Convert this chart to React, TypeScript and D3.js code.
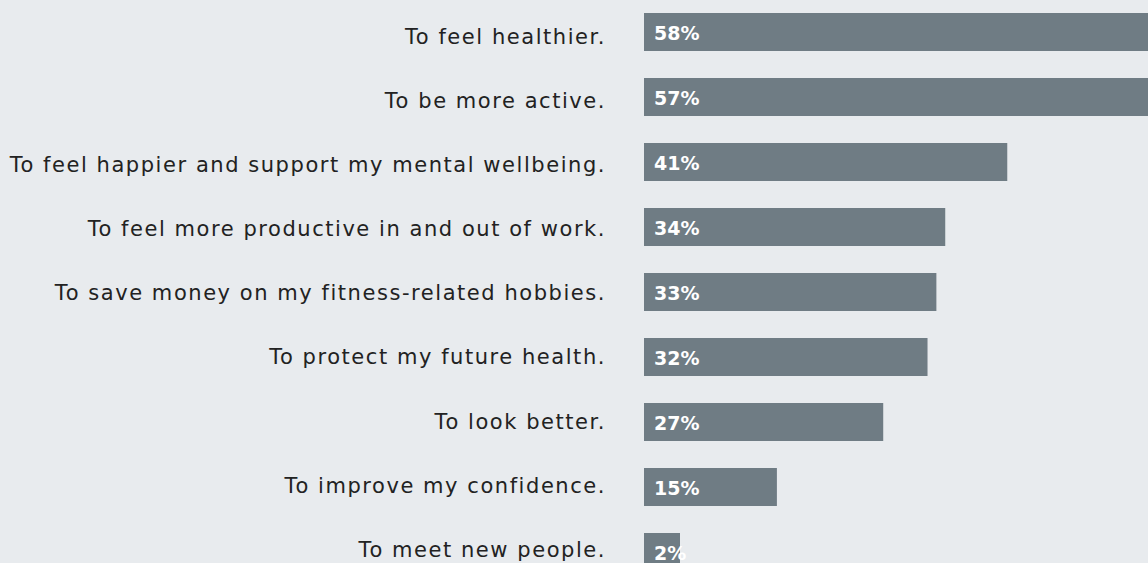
import React from "react";
import * as d3 from "d3";

const categories = [
  "To feel healthier.",
  "To be more active.",
  "To feel happier and support my mental wellbeing.",
  "To feel more productive in and out of work.",
  "To save money on my fitness-related hobbies.",
  "To protect my future health.",
  "To look better.",
  "To improve my confidence.",
  "To meet new people.",
];
const values = [58, 57, 41, 34, 33, 32, 27, 15, 2];

const W = 1148;
const H = 563;
const BG = "#e8ebee";
const BAR = "#6f7c84";

export default function App() {
  const x = d3.scaleLinear().domain([0, 1]).range([644, 644 + 8.86]);
  const y = d3
    .scaleBand<string>()
    .domain(categories)
    .range([13, 571])
    .paddingInner(27 / 65)
    .paddingOuter(0);
  const yLabel = d3.scalePoint<string>().domain(categories).range([43.5, 557]);
  const minW = 36;
  return (
    <div style={{ position: "absolute", left: 0, top: 0, width: W, height: H, overflow: "hidden" }}>
      <svg width={W} height={H} style={{ display: "block", background: BG }}>
        <rect x={0} y={0} width={W} height={H} fill={BG} />
        {categories.map((c, i) => {
          const y0 = y(c)!;
          const bw = Math.max(x(values[i]) - x(0), minW);
          const cy = y0 + y.bandwidth() / 2;
          return (
            <g key={c}>
              <text
                x={606}
                y={yLabel(c)!}
                textAnchor="end"
                fontFamily="'DejaVu Sans', sans-serif"
                fontSize={21}
                letterSpacing={1.55}
                fill="#222"
              >
                {c}
              </text>
              <rect x={x(0)} y={y0} width={bw} height={y.bandwidth()} fill={BAR} />
              <text
                x={x(0) + 10}
                y={cy + 8}
                fontFamily="'DejaVu Sans', sans-serif"
                fontWeight={700}
                fontSize={19}
                fill="#fff"
              >
                {values[i]}%
              </text>
            </g>
          );
        })}
      </svg>
    </div>
  );
}
